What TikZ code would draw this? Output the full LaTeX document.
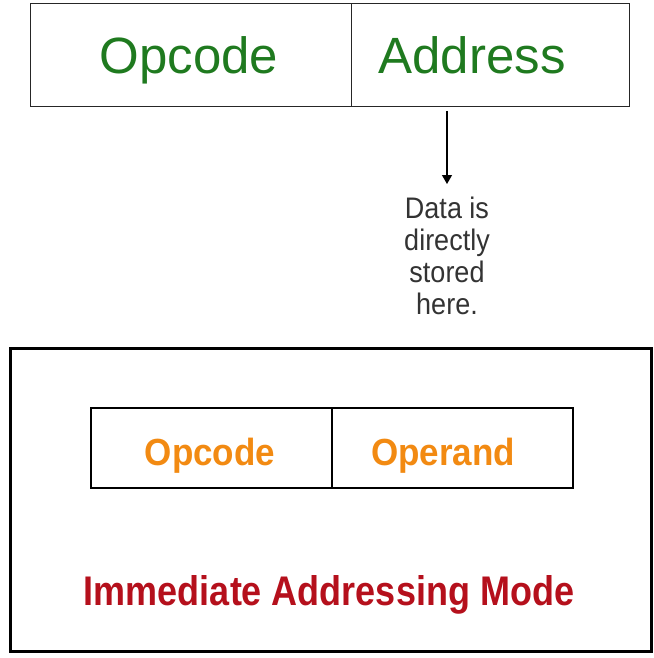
\documentclass[tikz,border=0pt]{standalone}
\usepackage{fontspec}
\setmainfont{Liberation Sans}
\usetikzlibrary{arrows.meta}
\definecolor{topgreen}{HTML}{1F7A1F}
\definecolor{oporange}{HTML}{F28A12}
\definecolor{modered}{HTML}{B5101C}
\definecolor{notegray}{HTML}{333333}
\tikzset{
  topcell/.style={draw=black!85, line width=1.4pt, minimum height=103pt, inner sep=0pt},
  innercell/.style={draw=black, line width=2.4pt, minimum height=80pt, inner sep=0pt},
  toptext/.style={text=topgreen, font=\fontsize{51}{51}\selectfont, anchor=base, inner sep=0pt},
  optext/.style={text=oporange, font=\bfseries\fontsize{35}{35}\selectfont, anchor=base, inner sep=0pt, yscale=1.08, transform shape},
  notetext/.style={text=notegray, font=\fontsize{27}{29}\selectfont, align=center, inner sep=0pt, yscale=1.1, transform shape},
  connector/.style={draw=black, line width=1.2pt, -{Triangle[length=9pt,width=10pt]}}
}
\begin{document}
\begin{tikzpicture}[x=1pt,y=-1pt]
\useasboundingbox (0,0) rectangle (653,658);
% top instruction
\node[topcell, minimum width=321pt, anchor=north west] (opc1) at (30,3) {};
\node[topcell, minimum width=278pt, anchor=north west] (addr1) at (351,3) {};
\node[toptext] (opc1t) at (189,74) {Opcode};
\node[toptext] (addr1t) at (472,74) {Address};
% arrow and note
\coordinate (astart) at (447,111);
\coordinate (aend) at (447,184);
\draw[connector] (astart) -- (aend);
\node[notetext, anchor=north] (note) at (447,197) {Data is\\directly\\stored\\here.};
% bottom frame
\node[draw=black, line width=2.6pt, minimum width=641pt, minimum height=303pt, anchor=north west, inner sep=0pt] (frame) at (9,347) {};
\node[innercell, minimum width=241pt, anchor=north west] (opc2) at (90,407) {};
\node[innercell, minimum width=241pt, anchor=north west] (opd2) at (331,407) {};
\node[optext] (opc2t) at (210,465) {Opcode};
\node[optext] (opd2t) at (443,465) {Operand};
\node[text=modered, font=\bfseries\fontsize{36}{36}\selectfont, anchor=base, inner sep=0pt, yscale=1.15, transform shape] (mode) at (329,605) {Immediate Addressing Mode};
\end{tikzpicture}
\end{document}
